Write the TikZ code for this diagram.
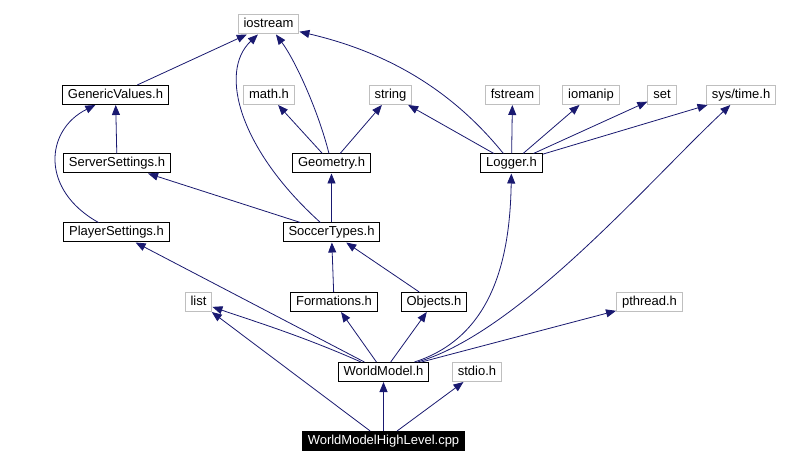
\documentclass[tikz,border=0pt]{standalone}
\usepackage{fontspec}
\setmainfont{Liberation Sans}
\usetikzlibrary{arrows.meta}
\definecolor{depline}{HTML}{191970}
\definecolor{sysgray}{HTML}{BFBFBF}
\tikzset{
  sysfile/.style={draw=sysgray,line width=1pt,minimum height=19pt,inner xsep=5.5pt,inner ysep=0pt,text height=9.5pt,text depth=2.8pt,font=\fontsize{13}{15}\selectfont},
  projfile/.style={sysfile,draw=black},
  rootfile/.style={sysfile,draw=black,fill=black,text=white},
  dep/.style={-{Triangle[length=10pt,width=8pt]},line width=0.8pt,depline}
}
\begin{document}
\begin{tikzpicture}[x=1pt,y=-1pt]
  \fill[white] (0,0) rectangle (790,465);

  \node[sysfile] (iostream) at (268.5,24.5) {iostream};
  \node[projfile] (genericvalues) at (115.5,95) {GenericValues.h};
  \node[sysfile] (mathh) at (269,95) {math.h};
  \node[sysfile] (string) at (390.5,95) {string};
  \node[sysfile] (fstream) at (512.5,95) {fstream};
  \node[sysfile] (iomanip) at (591,95) {iomanip};
  \node[sysfile] (setinc) at (662,95) {set};
  \node[sysfile] (systime) at (741,95) {sys/time.h};
  \node[projfile] (serversettings) at (117,163.5) {ServerSettings.h};
  \node[projfile] (geometry) at (331.5,163.5) {Geometry.h};
  \node[projfile] (logger) at (511.5,163.5) {Logger.h};
  \node[projfile] (playersettings) at (116.5,232.5) {PlayerSettings.h};
  \node[projfile] (soccertypes) at (331.5,232.5) {SoccerTypes.h};
  \node[sysfile] (list) at (198.5,302) {list};
  \node[projfile] (formations) at (334,302) {Formations.h};
  \node[projfile] (objects) at (434,302) {Objects.h};
  \node[sysfile] (pthread) at (649.5,302) {pthread.h};
  \node[projfile] (worldmodel) at (383.5,372) {WorldModel.h};
  \node[sysfile] (stdio) at (477,372) {stdio.h};
  \node[rootfile] (highlevel) at (383.5,441) {WorldModelHighLevel.cpp};

  \draw[dep] (genericvalues) -- (iostream);
  \draw[dep] (geometry) .. controls (318,110) and (295,60) .. (iostream);
  \draw[dep] (geometry) -- (mathh);
  \draw[dep] (geometry) -- (string);
  \draw[dep] (soccertypes) .. controls (240,150) and (218,72) .. (iostream);
  \draw[dep] (logger) .. controls (460,100) and (400,55) .. (iostream);
  \draw[dep] (logger) -- (string);
  \draw[dep] (logger) -- (fstream);
  \draw[dep] (logger) -- (iomanip);
  \draw[dep] (logger) -- (setinc);
  \draw[dep] (logger) -- (systime);

  \draw[dep] (serversettings) -- (genericvalues);
  \draw[dep] (playersettings) .. controls (40,190) and (45,130) .. (genericvalues);
  \draw[dep] (soccertypes) -- (serversettings);
  \draw[dep] (soccertypes) -- (geometry);
  \draw[dep] (formations) -- (soccertypes);
  \draw[dep] (objects) -- (soccertypes);

  \draw[dep] (worldmodel) -- (playersettings);
  \draw[dep] (worldmodel) .. controls (300,335) and (250,320) .. (list);
  \draw[dep] (worldmodel) -- (formations);
  \draw[dep] (worldmodel) -- (objects);
  \draw[dep] (worldmodel) .. controls (492,337) and (510,260) .. (logger);
  \draw[dep] (worldmodel) .. controls (520,332) and (650,180) .. (systime);
  \draw[dep] (worldmodel) -- (pthread);

  \draw[dep] (highlevel) -- (list);
  \draw[dep] (highlevel) -- (worldmodel);
  \draw[dep] (highlevel) -- (stdio);
\end{tikzpicture}
\end{document}
